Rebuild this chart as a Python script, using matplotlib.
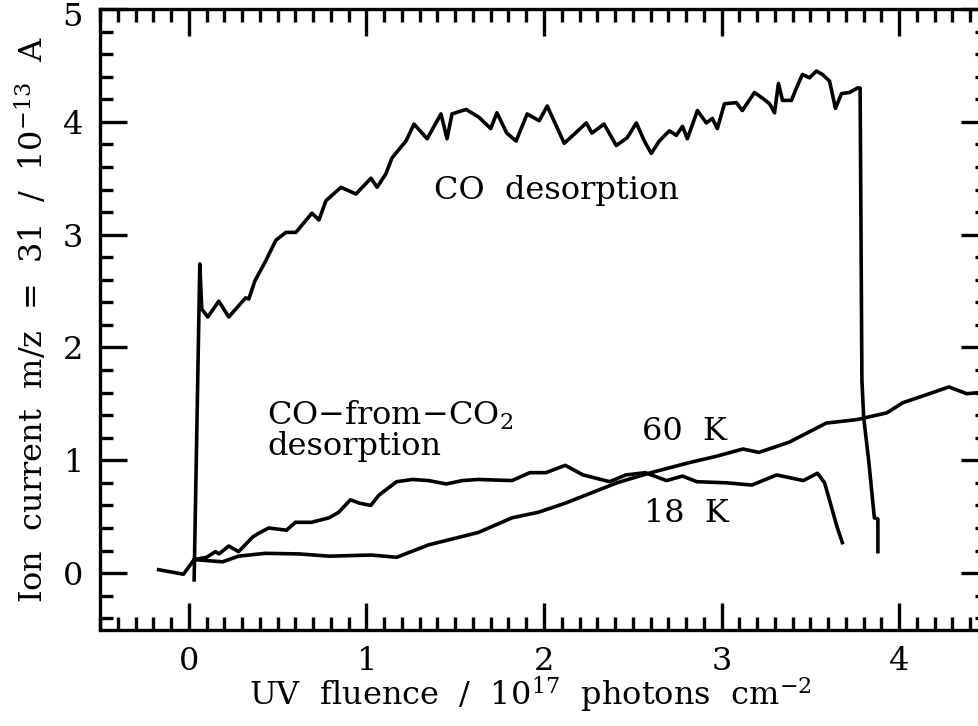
import numpy as np
import matplotlib
matplotlib.use('Agg')
import matplotlib.pyplot as plt
from matplotlib.ticker import MultipleLocator, FuncFormatter

plt.rcParams['font.family'] = ['DejaVu Serif']
plt.rcParams['mathtext.fontset'] = 'dejavuserif'

# CO desorption (pure CO ice, 18 K)
co_x = [0.03, 0.062, 0.073, 0.107, 0.169, 0.225, 0.32, 0.338, 0.372, 0.434,
        0.49, 0.547, 0.603, 0.693, 0.733, 0.772, 0.857, 0.941, 1.026, 1.06,
        1.11, 1.144, 1.223, 1.268, 1.342, 1.42, 1.454, 1.482, 1.561, 1.634,
        1.70, 1.735, 1.79, 1.843, 1.905, 1.973, 2.018, 2.114, 2.17, 2.238,
        2.27, 2.338, 2.407, 2.469, 2.52, 2.565, 2.604, 2.649, 2.706, 2.745,
        2.78, 2.807, 2.864, 2.914, 2.948, 2.976, 3.016, 3.083, 3.117, 3.185,
        3.23, 3.27, 3.298, 3.32, 3.343, 3.393, 3.427, 3.455, 3.495, 3.534,
        3.568, 3.608, 3.641, 3.675, 3.72, 3.766, 3.78, 3.79, 3.80, 3.83,
        3.86, 3.88, 3.88]
co_y = [-0.06, 2.74, 2.34, 2.27, 2.41, 2.27, 2.44, 2.43, 2.59, 2.77,
        2.95, 3.02, 3.02, 3.19, 3.13, 3.30, 3.42, 3.36, 3.50, 3.42,
        3.54, 3.68, 3.83, 3.98, 3.85, 4.07, 3.85, 4.07, 4.11, 4.04,
        3.94, 4.08, 3.90, 3.83, 4.07, 4.01, 4.14, 3.81, 3.89, 3.99,
        3.90, 3.98, 3.79, 3.86, 3.99, 3.83, 3.72, 3.83, 3.92, 3.88,
        3.96, 3.85, 4.10, 3.99, 4.03, 3.94, 4.16, 4.17, 4.10, 4.26,
        4.21, 4.16, 4.08, 4.34, 4.19, 4.19, 4.32, 4.42, 4.39, 4.45,
        4.42, 4.36, 4.12, 4.25, 4.26, 4.30, 4.30, 1.71, 1.38, 0.97,
        0.49, 0.48, 0.19]

# CO-from-CO2 desorption, 18 K
k18_x = [0.03, 0.10, 0.15, 0.17, 0.225, 0.28, 0.36, 0.39, 0.45, 0.55,
         0.60, 0.69, 0.79, 0.845, 0.91, 0.96, 1.025, 1.07, 1.17, 1.26,
         1.35, 1.45, 1.54, 1.63, 1.82, 1.92, 2.01, 2.12, 2.22, 2.37,
         2.46, 2.57, 2.69, 2.78, 2.86, 3.03, 3.17, 3.31, 3.46, 3.54,
         3.58, 3.65, 3.68]
k18_y = [0.12, 0.14, 0.19, 0.17, 0.24, 0.19, 0.32, 0.35, 0.40, 0.38,
         0.45, 0.45, 0.49, 0.54, 0.65, 0.62, 0.60, 0.69, 0.81, 0.83,
         0.82, 0.79, 0.82, 0.83, 0.82, 0.89, 0.89, 0.955, 0.87, 0.81,
         0.87, 0.89, 0.82, 0.86, 0.81, 0.80, 0.78, 0.87, 0.82, 0.885,
         0.80, 0.41, 0.27]

# CO-from-CO2 desorption, 60 K
k60_x = [-0.17, -0.03, 0.03, 0.19, 0.28, 0.43, 0.62, 0.79, 1.03, 1.17,
         1.35, 1.63, 1.82, 1.97, 2.12, 2.41, 2.59, 2.82, 2.97, 3.12,
         3.21, 3.38, 3.59, 3.76, 3.93, 4.02, 4.17, 4.28, 4.38, 4.45]
k60_y = [0.03, -0.01, 0.12, 0.10, 0.15, 0.175, 0.17, 0.15, 0.16, 0.14,
         0.25, 0.36, 0.49, 0.54, 0.62, 0.80, 0.885, 0.98, 1.035, 1.10,
         1.07, 1.16, 1.33, 1.36, 1.42, 1.51, 1.59, 1.65, 1.59, 1.60]

W, H = 979, 726
fig = plt.figure(figsize=(W / 100, H / 100), dpi=100)
ax = fig.add_axes([100 / W, 96.5 / H, 888 / W, 620.5 / H])

lw = 2.6
ax.plot(co_x, co_y, color='black', lw=lw)
ax.plot(k18_x, k18_y, color='black', lw=lw)
ax.plot(k60_x, k60_y, color='black', lw=lw)

ax.set_xlim(-0.5, 4.5)
ax.set_ylim(-0.5, 5)
ax.xaxis.set_major_locator(MultipleLocator(1))
ax.xaxis.set_minor_locator(MultipleLocator(0.1))
ax.yaxis.set_major_locator(MultipleLocator(1))
ax.yaxis.set_minor_locator(MultipleLocator(0.2))
# the top label "5" is drawn by hand a bit lower so it stays inside the figure
ax.yaxis.set_major_formatter(FuncFormatter(lambda v, p: '' if v > 4.5 else '%d' % round(v)))
ax.tick_params(which='both', direction='in', top=True, right=True,
               width=2.4, labelsize=23)
ax.tick_params(which='major', length=19.5, pad=12)
ax.tick_params(which='minor', length=9.5)
for s in ax.spines.values():
    s.set_linewidth(2.4)

fs = 23
ax.text(1.38, 3.32, 'CO  desorption', fontsize=fs, va='baseline')
ax.text(0.44, 1.31, 'CO\u2212from\u2212CO$_2$', fontsize=fs, va='baseline')
ax.text(0.44, 1.044, 'desorption', fontsize=fs, va='baseline')
ax.text(2.55, 1.177, '60  K', fontsize=fs, va='baseline')
ax.text(2.565, 0.451, '18  K', fontsize=fs, va='baseline')

fig.text(83 / W, (H - 18) / H, '5', fontsize=fs, ha='right', va='center')
fig.text(530 / W, 20 / H, 'UV  fluence  /  10$^{17}$  photons  cm$^{-2}$',
         fontsize=fs, ha='center', va='baseline')
fig.text(33 / W, (H - 319) / H, 'Ion  current  m/z  =  31  /  10$^{-13}$  A',
         fontsize=fs, ha='center', va='center', rotation=90)

fig.savefig('out.png', dpi=100)
